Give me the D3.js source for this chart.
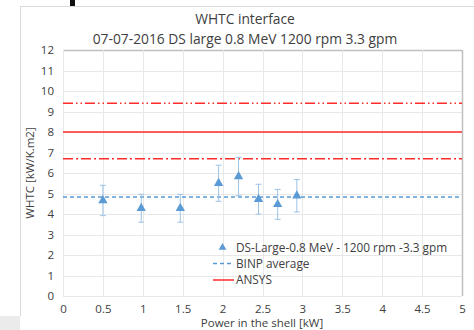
<!DOCTYPE html>
<html>
<head>
<meta charset="utf-8">
<script src="https://cdn.jsdelivr.net/npm/d3@7"></script>
<style>
  body { margin: 0; background: #fff; }
  svg { display: block; font-family: "Open Sans", "Liberation Sans", sans-serif; }
</style>
</head>
<body>
<div id="chart"></div>
<script>
// data
var power = [0.5, 0.98, 1.47, 1.95, 2.2, 2.45, 2.69, 2.93]
var whtc = [4.66, 4.28, 4.28, 5.5, 5.83, 4.72, 4.47, 4.89]
var whtcErr = [0.74, 0.68, 0.68, 0.88, 0.94, 0.73, 0.73, 0.79]
var binpAvg = 4.83
var ansys = 8.0
var ansysHigh = 9.4
var ansysLow = 6.7
var xTicks = [0, 0.5, 1, 1.5, 2, 2.5, 3, 3.5, 4, 4.5, 5]
var yTicks = [0, 1, 2, 3, 4, 5, 6, 7, 8, 9, 10, 11, 12]
var legendNames = ['DS-Large-0.8 MeV - 1200 rpm -3.3 gpm', 'BINP average', 'ANSYS']

var W = 474, H = 330
var margin = { top: 50, right: 12, bottom: 34, left: 63 }
var blue = '#5b9bd5', red = '#ff2a2a'

var svg = d3.select('#chart').append('svg').attr('width', W).attr('height', H)

// outer frame bits
svg.append('rect').attr('x', 0).attr('y', 316).attr('width', 20).attr('height', 14).attr('fill', '#ebebeb')
svg.append('line').attr('x1', 20).attr('x2', 474).attr('y1', 6.5).attr('y2', 6.5).attr('stroke', '#d9d9d9')
svg.append('line').attr('x1', 20.5).attr('x2', 20.5).attr('y1', 6).attr('y2', 316).attr('stroke', '#d9d9d9')
svg.append('rect').attr('x', 70).attr('y', 0).attr('width', 5).attr('height', 6).attr('fill', '#111')

var x = d3.scaleLinear().domain([0, 5]).range([margin.left, W - margin.right])
var y = d3.scaleLinear().domain([0, 12]).range([H - margin.bottom, margin.top])

// grid
svg.append('g').selectAll('line').data(yTicks).enter().append('line')
  .attr('x1', x(0)).attr('x2', x(5))
  .attr('y1', function (d) { return Math.round(y(d)) + 0.5 })
  .attr('y2', function (d) { return Math.round(y(d)) + 0.5 })
  .attr('stroke', function (d) { return d == 12 ? '#bfbfbf' : '#e8e8e8' })
  .attr('stroke-width', function (d) { return d == 12 ? 1.5 : 1 })
svg.append('g').selectAll('line').data(xTicks).enter().append('line')
  .attr('y1', y(0)).attr('y2', y(12))
  .attr('x1', function (d) { return Math.round(x(d)) + 0.5 })
  .attr('x2', function (d) { return Math.round(x(d)) + 0.5 })
  .attr('stroke', function (d) { return d == 5 ? '#bfbfbf' : '#e8e8e8' })
  .attr('stroke-width', function (d) { return d == 5 ? 1.5 : 1 })

// axes (labels only)
var xAxis = svg.append('g').attr('transform', 'translate(0,' + (y(0) + 6) + ')')
  .call(d3.axisBottom(x).tickValues(xTicks).tickSize(0).tickFormat(d3.format('~g')))
var yAxis = svg.append('g').attr('transform', 'translate(' + (x(0) - 6) + ',0)')
  .call(d3.axisLeft(y).tickValues(yTicks).tickSize(0))
svg.selectAll('.domain').remove()
svg.selectAll('.tick text').attr('font-size', '11.5px').attr('fill', '#404040')
  .attr('font-family', '"Open Sans", "Liberation Sans", sans-serif')

// reference lines
svg.append('line').attr('x1', x(0)).attr('x2', x(5)).attr('y1', y(ansysHigh)).attr('y2', y(ansysHigh))
  .attr('stroke', red).attr('stroke-width', 1.5).attr('stroke-dasharray', '10,3,1.5,3,1.5,3')
svg.append('line').attr('x1', x(0)).attr('x2', x(5)).attr('y1', y(ansys)).attr('y2', y(ansys))
  .attr('stroke', red).attr('stroke-width', 1.5)
svg.append('line').attr('x1', x(0)).attr('x2', x(5)).attr('y1', y(ansysLow)).attr('y2', y(ansysLow))
  .attr('stroke', red).attr('stroke-width', 1.5).attr('stroke-dasharray', '10,3,2,3')
svg.append('line').attr('x1', x(0)).attr('x2', x(5)).attr('y1', y(binpAvg)).attr('y2', y(binpAvg))
  .attr('stroke', blue).attr('stroke-width', 1.5).attr('stroke-dasharray', '4,3')

// error bars + markers
var pts = svg.append('g').selectAll('g').data(power).enter().append('g')
pts.append('line')
  .attr('x1', function (d) { return x(d) }).attr('x2', function (d) { return x(d) })
  .attr('y1', function (d, i) { return y(whtc[i] + whtcErr[i]) })
  .attr('y2', function (d, i) { return y(whtc[i] - whtcErr[i]) })
  .attr('stroke', '#9dc3e6').attr('stroke-width', 1)
pts.selectAll('.cap').data(function (d, i) { return [[d, whtc[i] + whtcErr[i]], [d, whtc[i] - whtcErr[i]]] })
  .enter().append('line')
  .attr('x1', function (d) { return x(d[0]) - 3 }).attr('x2', function (d) { return x(d[0]) + 3 })
  .attr('y1', function (d) { return y(d[1]) }).attr('y2', function (d) { return y(d[1]) })
  .attr('stroke', '#9dc3e6').attr('stroke-width', 1)
var tri = d3.symbol().type(d3.symbolTriangle).size(38)
pts.append('path').attr('d', tri)
  .attr('transform', function (d, i) { return 'translate(' + x(d) + ',' + y(whtc[i]) + ')' })
  .attr('fill', blue)

// legend
var lg = svg.append('g').attr('font-size', '11.8px').attr('fill', '#404040')
lg.append('path').attr('d', d3.symbol().type(d3.symbolTriangle).size(26))
  .attr('transform', 'translate(222.5,247.5)').attr('fill', blue)
lg.append('line').attr('x1', 213).attr('x2', 234).attr('y1', 263.5).attr('y2', 263.5)
  .attr('stroke', blue).attr('stroke-width', 1.5).attr('stroke-dasharray', '4,3')
lg.append('line').attr('x1', 213).attr('x2', 234).attr('y1', 280).attr('y2', 280)
  .attr('stroke', red).attr('stroke-width', 1.5)
lg.selectAll('text').data(legendNames).enter().append('text')
  .attr('x', 236).attr('y', function (d, i) { return 251.5 + i * 16.3 })
  .attr('fill', '#404040')
  .text(function (d) { return d })

// titles
svg.append('text').attr('x', 245).attr('y', 24).attr('text-anchor', 'middle')
  .attr('font-size', '13.8px').attr('fill', '#404040').text('WHTC interface')
svg.append('text').attr('x', 245).attr('y', 44).attr('text-anchor', 'middle')
  .attr('font-size', '13.8px').attr('fill', '#404040').text('07-07-2016 DS large 0.8 MeV 1200 rpm 3.3 gpm')
svg.append('text').attr('x', 262).attr('y', 327).attr('text-anchor', 'middle')
  .attr('font-size', '11.5px').attr('fill', '#404040').text('Power in the shell [kW]')
svg.append('text').attr('transform', 'translate(34,173) rotate(-90)').attr('text-anchor', 'middle')
  .attr('font-size', '11.5px').attr('fill', '#404040').text('WHTC [kW/K.m2]')
</script>
</body>
</html>
